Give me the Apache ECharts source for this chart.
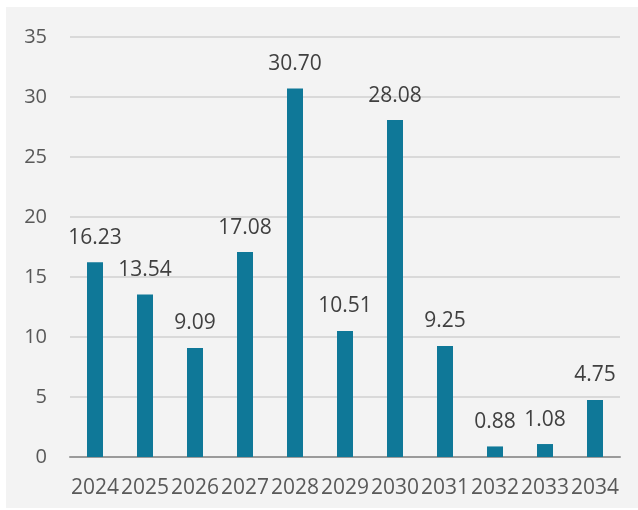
<!DOCTYPE html>
<html>
<head>
<meta charset="utf-8">
<script src="https://cdn.jsdelivr.net/npm/echarts@6/dist/echarts.min.js"></script>
<style>
html,body{margin:0;padding:0;background:#ffffff;}
#bg{position:absolute;left:6px;top:7px;width:632px;height:501px;background:#f3f3f3;}
#chart{position:absolute;left:0;top:0;width:638px;height:510px;}
</style>
</head>
<body>
<div id="bg"></div>
<div id="chart"></div>
<script>
const categories = ['2024','2025','2026','2027','2028','2029','2030','2031','2032','2033','2034'];
const values = [16.23, 13.54, 9.09, 17.08, 30.70, 10.51, 28.08, 9.25, 0.88, 1.08, 4.75];

const chart = echarts.init(document.getElementById('chart'), null, {renderer:'canvas'});
chart.setOption({
  backgroundColor: 'transparent',
  animation: false,
  grid: {left: 70, right: 18, top: 37, bottom: 53, containLabel: false},
  xAxis: {
    type: 'category',
    data: categories,
    axisTick: {show: false},
    axisLine: {lineStyle: {color: '#9a9a9a', width: 2}},
    axisLabel: {color: '#595959', fontFamily: 'Open Sans', fontSize: 21, margin: 21, interval: 0}
  },
  yAxis: {
    type: 'value',
    min: 0, max: 35, interval: 5,
    axisLine: {show: false},
    axisTick: {show: false},
    axisLabel: {color: '#595959', fontFamily: 'Open Sans', fontSize: 20, margin: 23},
    splitLine: {lineStyle: {color: '#d9d9d9', width: 2}}
  },
  series: [{
    type: 'bar',
    data: values,
    barWidth: 16,
    itemStyle: {color: '#0f7898'},
    label: {
      show: true, position: 'top', distance: 14,
      color: '#404040', fontFamily: 'Open Sans', fontSize: 21,
      formatter: p => p.value.toFixed(2)
    }
  }]
});
</script>
</body>
</html>
